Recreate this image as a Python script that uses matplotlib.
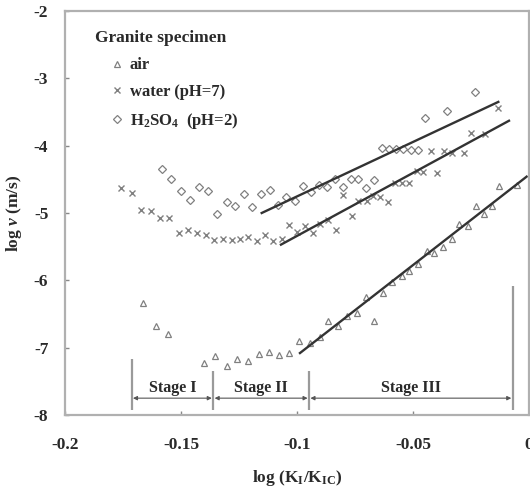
import matplotlib
matplotlib.use('Agg')
import matplotlib.pyplot as plt

plt.rcParams['font.family'] = ['Liberation Serif', 'DejaVu Serif']
plt.rcParams['mathtext.fontset'] = 'custom'
plt.rcParams['mathtext.rm'] = 'Liberation Serif:bold'
plt.rcParams['mathtext.it'] = 'Liberation Serif:italic:bold'
plt.rcParams['mathtext.bf'] = 'Liberation Serif:bold'
plt.rcParams['axes.unicode_minus'] = False

# ---- data ----
air_x = [-0.1665, -0.1609, -0.1557, -0.1402, -0.1354, -0.1303, -0.1260, -0.1213,
         -0.1165, -0.1120, -0.1078, -0.1035, -0.0990, -0.0944, -0.0901, -0.0868,
         -0.0822, -0.0783, -0.0743, -0.0703, -0.0667, -0.0628, -0.0589, -0.0549,
         -0.0517, -0.0480, -0.0441, -0.0408, -0.0372, -0.0333, -0.0301, -0.0264,
         -0.0230, -0.0194, -0.0161, -0.0129, -0.0053]
air_y = [-6.33, -6.68, -6.79, -7.23, -7.13, -7.27, -7.17, -7.20, -7.09, -7.07,
         -7.11, -7.08, -6.90, -6.93, -6.84, -6.60, -6.68, -6.53, -6.48, -6.25,
         -6.61, -6.19, -6.03, -5.93, -5.86, -5.76, -5.57, -5.59, -5.50, -5.39,
         -5.17, -5.19, -4.89, -5.02, -4.89, -4.60, -4.59]

water_x = [-0.1760, -0.1713, -0.1674, -0.1631, -0.1591, -0.1552, -0.1509, -0.1471,
           -0.1432, -0.1392, -0.1357, -0.1320, -0.1282, -0.1246, -0.1210, -0.1171,
           -0.1138, -0.1102, -0.1066, -0.1033, -0.0999, -0.0966, -0.0930, -0.0901,
           -0.0865, -0.0832, -0.0801, -0.0764, -0.0736, -0.0700, -0.0671, -0.0642,
           -0.0609, -0.0578, -0.0546, -0.0517, -0.0484, -0.0456, -0.0424, -0.0395,
           -0.0367, -0.0333, -0.0279, -0.0250, -0.0190, -0.0132]
water_y = [-4.63, -4.71, -4.96, -4.97, -5.07, -5.07, -5.29, -5.25, -5.29, -5.33,
           -5.40, -5.39, -5.40, -5.39, -5.35, -5.42, -5.32, -5.42, -5.39, -5.18,
           -5.28, -5.19, -5.30, -5.16, -5.11, -5.25, -4.73, -5.04, -4.82, -4.82,
           -4.75, -4.76, -4.84, -4.55, -4.55, -4.55, -4.38, -4.39, -4.08, -4.40,
           -4.08, -4.11, -4.11, -3.81, -3.83, -3.44]

acid_x = [-0.1583, -0.1543, -0.1500, -0.1461, -0.1422, -0.1382, -0.1344, -0.1303,
          -0.1267, -0.1229, -0.1193, -0.1155, -0.1116, -0.1083, -0.1047, -0.1009,
          -0.0976, -0.0941, -0.0904, -0.0870, -0.0836, -0.0803, -0.0769, -0.0738,
          -0.0703, -0.0668, -0.0635, -0.0604, -0.0573, -0.0542, -0.0509, -0.0477,
          -0.0447, -0.0355, -0.0233]
acid_y = [-4.35, -4.49, -4.67, -4.81, -4.61, -4.68, -5.01, -4.83, -4.89, -4.72,
          -4.91, -4.72, -4.66, -4.88, -4.76, -4.82, -4.60, -4.69, -4.59, -4.61,
          -4.49, -4.62, -4.50, -4.50, -4.63, -4.51, -4.03, -4.05, -4.05, -4.05,
          -4.06, -4.06, -3.59, -3.49, -3.20]

# fitted lines (end points)
air_fit_x = [-0.0987, -0.0010]
air_fit_y = [-7.08, -4.46]
water_fit_x = [-0.1069, -0.0086]
water_fit_y = [-5.47, -3.63]
acid_fit_x = [-0.1152, -0.0132]
acid_fit_y = [-5.00, -3.35]

# stage markers
stage_bounds = [-0.1713, -0.1361, -0.0948, -0.0070]
stage_tops = [-7.17, -7.35, -7.35, -6.08]
stage_names = ['Stage I', 'Stage II', 'Stage III']

xticks = [-0.2, -0.15, -0.1, -0.05, 0]
xtick_labels = ['-0.2', '-0.15', '-0.1', '-0.05', '0']
yticks = [-8, -7, -6, -5, -4, -3, -2]

# ---- plot ----
fig = plt.figure(figsize=(5.30, 4.91), dpi=100)
ax = fig.add_axes([0.1226, 0.1548, 0.8754, 0.8228])

mk = '#808080'
ln = '#333333'
txt = '#2a2a2a'

h_air, = ax.plot(air_x, air_y, ls='none', marker='^', ms=5, mfc='none', mec=mk, mew=0.9)
h_wat, = ax.plot(water_x, water_y, ls='none', marker='x', ms=4.5, mec=mk, mew=1.0)
h_acid, = ax.plot(acid_x, acid_y, ls='none', marker='D', ms=4, mfc='none', mec=mk, mew=0.9)

ax.plot(air_fit_x, air_fit_y, color=ln, lw=1.7)
ax.plot(water_fit_x, water_fit_y, color=ln, lw=1.7)
ax.plot(acid_fit_x, acid_fit_y, color=ln, lw=1.7)

# stage dividers and arrows
ax.vlines(stage_bounds, [-7.93] * len(stage_bounds), stage_tops, color='#9a9a9a', lw=1.6)
for i, name in enumerate(stage_names):
    x0 = stage_bounds[i]
    x1 = stage_bounds[i + 1]
    ax.annotate('', xy=(x1, -7.75), xytext=(x0, -7.75),
                arrowprops=dict(arrowstyle='<|-|>', color='#555555', lw=0.8,
                                mutation_scale=6, shrinkA=1, shrinkB=1))
    ax.text((x0 + x1) / 2, -7.60, name, ha='center', va='center',
            fontsize=11.5, fontweight='bold', color=txt)

ax.set_xlim(-0.2, 0)
ax.set_ylim(-8, -2)
ax.set_xticks(xticks)
ax.set_xticklabels(xtick_labels)
ax.set_yticks(yticks)
ax.tick_params(direction='in', length=3, width=1, color='#888888',
               labelsize=12.5, labelcolor=txt)
ax.tick_params(axis='x', pad=16)
ax.tick_params(axis='y', pad=12)
for lab in ax.get_xticklabels() + ax.get_yticklabels():
    lab.set_fontweight('bold')
for sp in ax.spines.values():
    sp.set_color('#b0b0b0')
    sp.set_linewidth(1.6)

ax.set_xlabel(r'log (K$_\mathrm{I}$/K$_\mathrm{IC}$)', fontsize=12.5,
              fontweight='bold', color=txt, labelpad=11)
ax.set_ylabel(r'log $v$ (m/s)', fontsize=12.5, fontweight='bold', color=txt, labelpad=7)

ax.text(0.065, 0.933, 'Granite specimen', transform=ax.transAxes, ha='left',
        va='center', fontsize=12.5, fontweight='bold', color=txt)
leg = ax.legend([h_air, h_wat, h_acid],
                ['air', 'water (pH=7)', r'H$_2$SO$_4$  (pH=2)'],
                loc='upper left', bbox_to_anchor=(0.097, 0.885), frameon=False,
                handlelength=0.8, handletextpad=0.4, borderpad=0, borderaxespad=0,
                labelspacing=0.65, prop={'size': 12, 'weight': 'bold'})
for t in leg.get_texts():
    t.set_color(txt)

fig.savefig('out.png', dpi=100)
